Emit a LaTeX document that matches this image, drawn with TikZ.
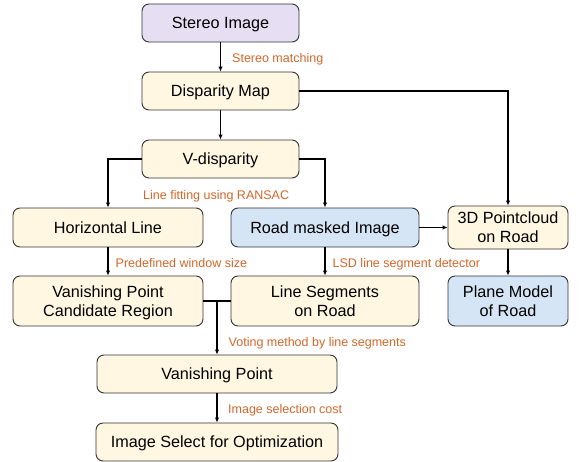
\documentclass[tikz,border=0pt]{standalone}
\usepackage{fontspec}
\setmainfont{Liberation Sans}
\usetikzlibrary{arrows.meta}
\definecolor{fpurple}{HTML}{E6DEF2}
\definecolor{fyellow}{HTML}{FFF7E2}
\definecolor{fblue}{HTML}{D5E5F5}
\definecolor{lblorange}{HTML}{D2672A}
\definecolor{bordergray}{HTML}{333333}
\tikzset{
  box/.style={draw=bordergray, line width=0.9pt, rounded corners=7pt, inner sep=0pt,
    align=center, font=\fontsize{16.2}{19.3}\selectfont, text=black},
  one/.style={text height=15pt, text depth=3.4pt},
  two/.style={text height=34.3pt, text depth=3.4pt},
  ybox/.style={box, fill=fyellow},
  pbox/.style={box, fill=fpurple},
  bbox/.style={box, fill=fblue},
  conn/.style={line width=1.4pt, black},
  arr/.style={conn, -{Latex[length=5pt,width=4.5pt]}},
  lbl/.style={anchor=base west, inner sep=0pt, text=lblorange, font=\fontsize{12.5}{15}\selectfont}
}
\begin{document}
\begin{tikzpicture}[x=1pt,y=-1pt]
\useasboundingbox (0,0) rectangle (586,462);
\node[pbox, one, minimum width=157pt, minimum height=38pt] (stereo) at (220.5,23) {Stereo Image};
\node[ybox, one, minimum width=157pt, minimum height=38pt] (disp) at (220.5,91) {Disparity Map};
\node[ybox, one, minimum width=157pt, minimum height=38pt] (vdisp) at (220.5,159) {V-disparity};
\node[ybox, one, minimum width=190pt, minimum height=39pt] (horiz) at (108,227.5) {Horizontal Line};
\node[bbox, one, minimum width=188pt, minimum height=39pt] (road) at (325,227.5) {Road masked Image};
\node[ybox, two, minimum width=120pt, minimum height=43pt] (pc) at (508,227.5) {3D Pointcloud\\on Road};
\node[ybox, two, minimum width=190pt, minimum height=50pt] (vpcr) at (108,301) {Vanishing Point\\Candidate Region};
\node[ybox, two, minimum width=188pt, minimum height=50pt] (lseg) at (325,301) {Line Segments\\on Road};
\node[bbox, two, minimum width=120pt, minimum height=50pt] (plane) at (508,301) {Plane Model\\of Road};
\node[ybox, one, minimum width=240pt, minimum height=38pt] (vp) at (217,374) {Vanishing Point};
\node[ybox, one, minimum width=242pt, minimum height=38pt] (isel) at (217,442) {Image Select for Optimization};
\coordinate (junc) at (217,301);

\draw[arr] (stereo) -- (disp);
\draw[arr] (disp) -- (vdisp);
\draw[arr] (vdisp.west) -| (horiz.north);
\draw[arr] (vdisp.east) -| (road.north);
\draw[arr] (disp.east) -| (pc.north);
\draw[arr] (road.east) -- (pc.west);
\draw[arr] (pc) -- (plane);
\draw[arr] (horiz) -- (vpcr);
\draw[arr] (road) -- (lseg);
\draw[conn] (vpcr.east) -- (lseg.west);
\draw[arr] (junc) -- (vp.north);
\draw[arr] (vp) -- (isel);

\node[lbl] (l1) at (232,62.5) {Stereo matching};
\node[lbl] (l2) at (143,199.5) {Line fitting using RANSAC};
\node[lbl] (l3) at (115.5,268) {Predefined window size};
\node[lbl] (l4) at (332.5,268) {LSD line segment detector};
\node[lbl] (l5) at (228.5,346) {Voting method by line segments};
\node[lbl] (l6) at (228,413) {Image selection cost};
\end{tikzpicture}
\end{document}
